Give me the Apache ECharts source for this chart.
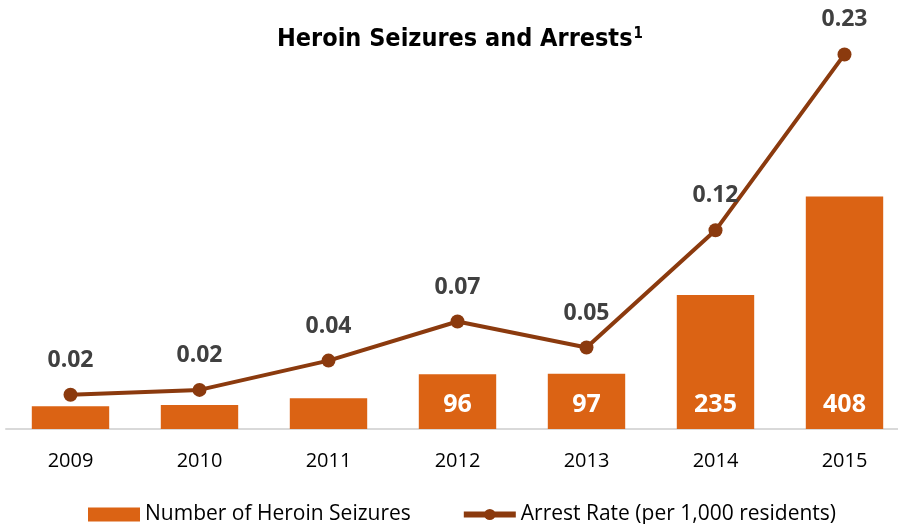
<!DOCTYPE html>
<html lang="en">
<head>
	<meta charset="UTF-8">
	<title>Heroin Seizures and Arrests</title>
	<script src="https://cdn.jsdelivr.net/npm/echarts@6/dist/echarts.min.js"></script>
	<style>
		body { margin: 0; padding: 0; background: #fff; }
		#main { width: 898px; height: 524px; }
	</style>
</head>
<body>
	<div id="main"></div>
	<script>
		// 年份
		var years = ['2009', '2010', '2011', '2012', '2013', '2014', '2015'];
		// 海洛因查获数量 柱状图
		var seizures = [40, 42, 54, 96, 97, 235, 408];
		// 只给这些柱子标数字
		var showBarLabel = [false, false, false, true, true, true, true];
		// 逮捕率 折线图
		var arrestRate = [0.021, 0.024, 0.042, 0.066, 0.050, 0.122, 0.23];

		var chart = echarts.init(document.getElementById('main'));

		var barData = seizures.map(function (v, i) {
			return { value: v, label: { show: showBarLabel[i] } };
		});

		chart.setOption({
			animation: false,
			title: {
				text: '{t|Heroin Seizures and Arrests}{s|1}',
				left: 272,
				top: 22,
				textStyle: {
					rich: {
						t: {
							fontFamily: 'DejaVu Sans Condensed',
							fontWeight: 'bold',
							fontSize: 25,
							color: '#000',
							verticalAlign: 'bottom'
						},
						s: {
							fontFamily: 'DejaVu Sans Condensed',
							fontWeight: 'bold',
							fontSize: 15,
							color: '#000',
							verticalAlign: 'top',
							padding: [0, 0, 10, 1]
						}
					}
				}
			},
			legend: {
				bottom: -6,
				left: 83,
				itemGap: 50,
				itemWidth: 52,
				itemHeight: 14,
				textStyle: {
					fontFamily: 'Open Sans',
					fontSize: 21,
					color: '#000'
				},
				data: [
					{ name: 'Number of Heroin Seizures', icon: 'rect' },
					{ name: 'Arrest Rate (per 1,000 residents)', lineStyle: { width: 6 } }
				]
			},
			grid: {
				left: 6,
				width: 903,
				top: 30,
				bottom: 95,
				outerBoundsMode: 'none'
			},
			xAxis: {
				type: 'category',
				data: years,
				axisTick: { show: false },
				axisLine: { lineStyle: { color: '#d9d9d9', width: 2 } },
				axisLabel: {
					fontFamily: 'Open Sans',
					fontSize: 20,
					color: '#000',
					margin: 22
				}
			},
			yAxis: [
				{ type: 'value', min: 0, max: 700, show: false },
				{ type: 'value', min: 0, max: 0.245, show: false }
			],
			series: [
				{
					name: 'Number of Heroin Seizures',
					type: 'bar',
					barWidth: '60%',
					data: barData,
					itemStyle: { color: '#DB6314' },
					label: {
						position: 'insideBottom',
						distance: 12,
						fontFamily: 'Open Sans',
						fontWeight: 'bold',
						fontSize: 25,
						color: '#fff'
					}
				},
				{
					name: 'Arrest Rate (per 1,000 residents)',
					type: 'line',
					yAxisIndex: 1,
					data: arrestRate,
					symbol: 'circle',
					symbolSize: 14,
					lineStyle: { color: '#8B3A0E', width: 4 },
					itemStyle: { color: '#8B3A0E' },
					label: {
						show: true,
						position: 'top',
						distance: 16,
						fontFamily: 'Open Sans',
						fontWeight: 'bold',
						fontSize: 23,
						color: '#404040',
						formatter: function (p) {
							return p.value.toFixed(2);
						}
					}
				}
			]
		});
	</script>
</body>
</html>
